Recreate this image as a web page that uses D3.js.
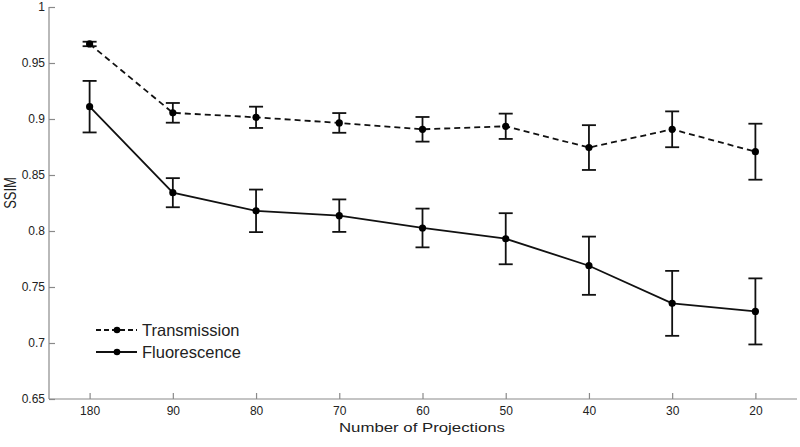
<!DOCTYPE html>
<html><head><meta charset="utf-8">
<script src="https://cdn.jsdelivr.net/npm/d3@7"></script>
<style>body{margin:0;background:#fff}svg{display:block}text{font-family:"Liberation Sans",Arial,sans-serif}</style>
</head><body>
<script>
const categories = ["180","90","80","70","60","50","40","30","20"];
const transmission = [0.967, 0.9055, 0.9015, 0.8965, 0.8908, 0.8935, 0.8745, 0.8908, 0.8708];
const transmissionErr = [0.002, 0.0088, 0.0095, 0.0088, 0.011, 0.0113, 0.0200, 0.0160, 0.0250];
const fluorescence = [0.911, 0.8342, 0.8180, 0.8137, 0.8027, 0.7931, 0.7690, 0.7354, 0.7282];
const fluorescenceErr = [0.023, 0.0130, 0.0190, 0.0145, 0.0173, 0.0228, 0.0260, 0.0290, 0.0295];
const yTicks = [0.65, 0.7, 0.75, 0.8, 0.85, 0.9, 0.95, 1];
const seriesNames = ["Transmission", "Fluorescence"];

const W = 800, H = 447;
const svg = d3.select("body").append("svg").attr("width", W).attr("height", H);

const x = d3.scalePoint().domain(categories).range([48, 797]).padding(0.5);
const y = d3.scaleLinear().domain([0.65, 1]).range([399, 7]);
const axisColor = "#8a8a8a", textColor = "#222";

// axes lines
svg.append("line").attr("x1", 49).attr("x2", 49).attr("y1", y(1)).attr("y2", y(0.65)).attr("stroke", axisColor).attr("stroke-width", 1.2);
svg.append("line").attr("x1", 49).attr("x2", 797).attr("y1", y(0.65)).attr("y2", y(0.65)).attr("stroke", axisColor).attr("stroke-width", 1.2);

// y axis
const yAxis = d3.axisLeft(y).tickValues(yTicks).tickFormat(d => String(+d.toFixed(2))).tickSize(-6).tickPadding(4);
const gy = svg.append("g").attr("transform", "translate(49,0)").call(yAxis);
gy.select(".domain").remove();
gy.selectAll(".tick line").attr("stroke", axisColor).attr("stroke-width", 1.2);
gy.selectAll(".tick text").attr("fill", textColor).attr("font-size", 12).attr("font-family", "Liberation Sans, Arial, sans-serif");

// x axis
const xAxis = d3.axisBottom(x).tickSize(-6).tickPadding(7);
const gx = svg.append("g").attr("transform", `translate(0,${y(0.65)})`).call(xAxis);
gx.select(".domain").remove();
gx.selectAll(".tick line").attr("stroke", axisColor).attr("stroke-width", 1.2);
gx.selectAll(".tick text").attr("fill", textColor).attr("font-size", 12).attr("font-family", "Liberation Sans, Arial, sans-serif");

// axis titles
svg.append("text").attr("x", 422).attr("y", 432).attr("text-anchor", "middle")
  .attr("font-size", 13).attr("fill", textColor)
  .attr("textLength", 166).attr("lengthAdjust", "spacingAndGlyphs")
  .text("Number of Projections");
svg.append("text").attr("transform", "translate(16,193) scale(1.3,1) rotate(-90)").attr("text-anchor", "middle")
  .attr("font-size", 13).attr("fill", textColor)
  .text("SSIM");

const series = [
  {name: seriesNames[0], vals: transmission, err: transmissionErr, dash: "6,4"},
  {name: seriesNames[1], vals: fluorescence, err: fluorescenceErr, dash: null}
];
const line = d3.line().x((d, i) => x(categories[i])).y(d => y(d));
const cap = 7;

series.forEach(s => {
  const g = svg.append("g");
  s.vals.forEach((v, i) => {
    const cx = x(categories[i]);
    const top = y(v + s.err[i]), bot = y(v - s.err[i]);
    g.append("line").attr("x1", cx).attr("x2", cx).attr("y1", top).attr("y2", bot).attr("stroke", "#111").attr("stroke-width", 1.8);
    g.append("line").attr("x1", cx - cap).attr("x2", cx + cap).attr("y1", top).attr("y2", top).attr("stroke", "#111").attr("stroke-width", 1.8);
    g.append("line").attr("x1", cx - cap).attr("x2", cx + cap).attr("y1", bot).attr("y2", bot).attr("stroke", "#111").attr("stroke-width", 1.8);
  });
  g.append("path").datum(s.vals).attr("d", line).attr("fill", "none").attr("stroke", "#111")
    .attr("stroke-width", 1.8).attr("stroke-dasharray", s.dash);
  g.selectAll("circle").data(s.vals).join("circle")
    .attr("cx", (d, i) => x(categories[i])).attr("cy", d => y(d)).attr("r", 3.6).attr("fill", "#000");
});

// legend
const leg = svg.append("g");
series.forEach((s, i) => {
  const ly = 330 + i * 22;
  leg.append("line").attr("x1", 96).attr("x2", 137).attr("y1", ly).attr("y2", ly)
    .attr("stroke", "#111").attr("stroke-width", 1.8).attr("stroke-dasharray", s.dash ? "5,3" : null);
  leg.append("circle").attr("cx", 117).attr("cy", ly).attr("r", 3.3).attr("fill", "#000");
  leg.append("text").attr("x", 142).attr("y", ly + 6).attr("font-size", 16.5).attr("fill", textColor).text(s.name);
});
</script>
</body></html>
